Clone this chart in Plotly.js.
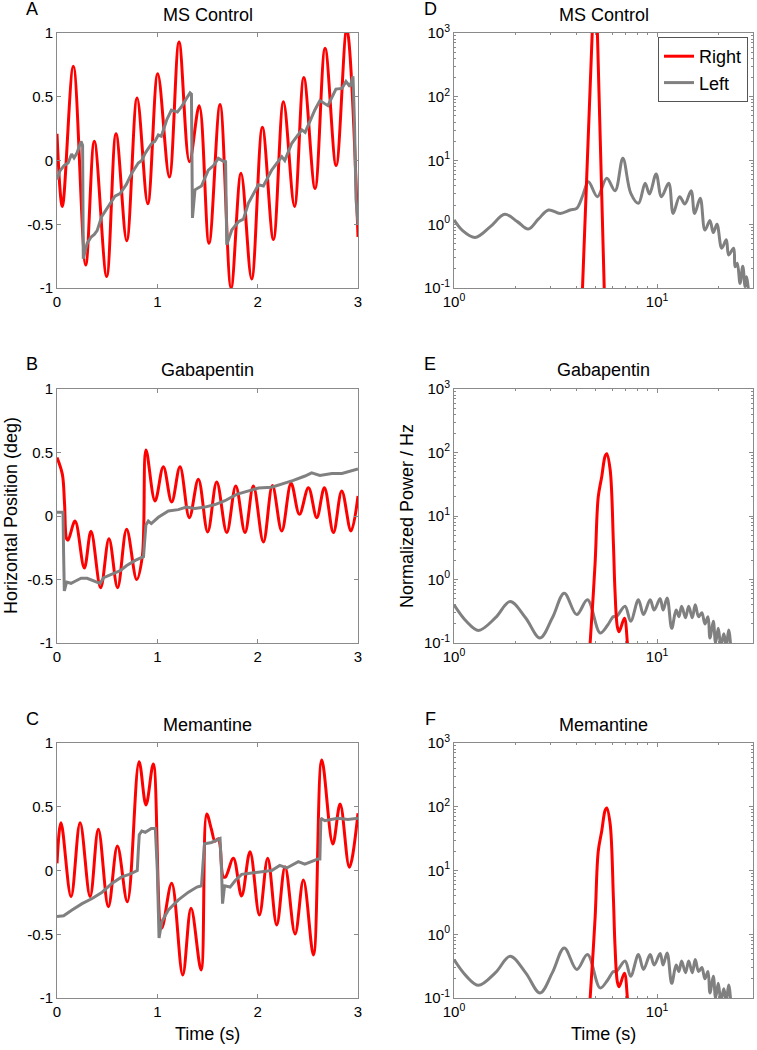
<!DOCTYPE html>
<html>
<head>
<meta charset="utf-8">
<script src="https://cdn.plot.ly/plotly-3.0.1.min.js"></script>
<style>html,body{margin:0;padding:0;background:#fff;}#chart{width:757px;height:1050px;}</style>
</head>
<body>
<div id="chart"></div>
<script>
// ---------- Data ----------
// Panel A: MS Control, time series
const tA_right = [0,0.053,0.163,0.286,0.372,0.495,0.588,0.695,0.798,0.905,1.004,1.12,1.216,1.32,1.418,1.515,1.625,1.735,1.834,1.94,2.047,2.157,2.257,2.367,2.46,2.572,2.672,2.782,2.888,3.0];
const A_right = [0.21,-0.36,0.74,-0.82,0.15,-0.91,0.21,-0.63,0.49,-0.34,0.68,-0.13,0.93,-0.01,0.43,-0.65,0.44,-1.0,-0.10,-0.93,0.26,-0.62,0.46,-0.36,0.65,-0.22,0.88,-0.04,1.03,-0.6];
const tA_left = [0,0.03,0.07,0.11,0.146,0.17,0.2,0.239,0.255,0.262,0.3,0.34,0.372,0.40,0.445,0.512,0.578,0.628,0.69,0.745,0.81,0.845,0.878,0.945,0.975,1.01,1.04,1.093,1.14,1.2,1.24,1.293,1.326,1.34,1.35,1.375,1.44,1.508,1.56,1.608,1.668,1.68,1.692,1.742,1.808,1.858,1.907,2.007,2.057,2.14,2.24,2.27,2.34,2.44,2.473,2.57,2.62,2.70,2.78,2.84,2.88,2.92,2.95,2.965,2.98,3.0];
const A_left = [-0.15,-0.08,-0.04,-0.02,0.05,0.02,0.06,0.15,0.12,-0.77,-0.65,-0.60,-0.58,-0.55,-0.44,-0.36,-0.28,-0.26,-0.19,-0.10,-0.02,0.0,0.056,0.135,0.15,0.20,0.19,0.318,0.396,0.38,0.42,0.49,0.53,0.52,-0.45,-0.23,-0.20,-0.075,-0.04,0.017,-0.01,0.0,-0.66,-0.545,-0.48,-0.46,-0.336,-0.19,-0.20,-0.075,0.03,0.0,0.135,0.24,0.22,0.396,0.47,0.43,0.56,0.565,0.62,0.58,0.66,0.3,-0.3,-0.5];

// Panel B: Gabapentin, time series
const tB_right = [0,0.053,0.075,0.096,0.11,0.18,0.272,0.339,0.435,0.518,0.604,0.694,0.794,0.85,0.887,0.977,1.06,1.143,1.226,1.319,1.409,1.502,1.592,1.692,1.782,1.874,1.957,2.057,2.147,2.24,2.333,2.416,2.506,2.589,2.665,2.755,2.838,2.93,3.0];
const B_right = [0.46,0.33,0.1,-0.18,-0.19,-0.04,-0.41,-0.12,-0.565,-0.18,-0.565,-0.105,-0.50,-0.32,0.52,0.118,0.388,0.11,0.388,-0.013,0.29,-0.126,0.268,-0.13,0.236,-0.13,0.236,-0.205,0.24,-0.118,0.257,0.013,0.223,-0.013,0.223,-0.13,0.197,-0.118,0.157];
const tB_left = [0,0.06,0.066,0.073,0.096,0.14,0.19,0.24,0.3,0.37,0.43,0.465,0.548,0.63,0.695,0.78,0.862,0.875,0.886,0.91,0.94,1.01,1.11,1.209,1.29,1.375,1.475,1.575,1.674,1.79,1.907,2.007,2.14,2.24,2.356,2.472,2.538,2.62,2.74,2.84,2.91,3.0];
const B_left = [0.03,0.03,-0.3,-0.59,-0.52,-0.53,-0.51,-0.49,-0.49,-0.51,-0.53,-0.485,-0.46,-0.43,-0.39,-0.35,-0.32,-0.2,-0.07,-0.04,-0.06,-0.01,0.04,0.05,0.07,0.06,0.07,0.09,0.12,0.17,0.2,0.22,0.226,0.25,0.28,0.315,0.34,0.32,0.335,0.335,0.35,0.37];

// Panel C: Memantine, time series
const tC_right = [0,0.04,0.14,0.23,0.33,0.412,0.512,0.602,0.701,0.818,0.887,0.96,1.043,1.143,1.253,1.336,1.436,1.492,1.54,1.574,1.608,1.625,1.658,1.68,1.758,1.84,1.924,2.017,2.1,2.19,2.273,2.373,2.456,2.556,2.639,2.749,2.822,2.914,3.0];
const C_right = [0.056,0.375,-0.205,0.375,-0.205,0.323,-0.284,0.192,-0.245,0.853,0.514,0.835,-0.453,-0.1,-0.82,-0.296,-0.78,0.443,0.32,0.23,0.25,0.2,-0.05,-0.05,0.096,-0.2,0.148,-0.349,0.096,-0.427,0.03,-0.498,-0.075,-0.663,0.867,0.208,0.522,0.025,0.45];
const tC_left = [0,0.066,0.15,0.25,0.35,0.45,0.55,0.645,0.72,0.8,0.81,0.82,0.845,0.88,0.94,0.98,1.0,1.017,1.045,1.11,1.21,1.31,1.395,1.44,1.455,1.47,1.54,1.59,1.625,1.64,1.65,1.67,1.725,1.775,1.84,1.94,2.04,2.14,2.22,2.29,2.405,2.47,2.6,2.62,2.63,2.67,2.73,2.8,2.9,3.0];
const C_left = [-0.36,-0.355,-0.31,-0.26,-0.22,-0.17,-0.10,-0.05,-0.03,0.0,0.15,0.28,0.31,0.30,0.33,0.33,0.0,-0.53,-0.40,-0.31,-0.23,-0.17,-0.13,-0.12,0.05,0.21,0.22,0.24,0.25,0.0,-0.26,-0.12,-0.13,-0.08,-0.03,-0.02,-0.01,0.0,0.04,0.02,0.07,0.05,0.09,0.09,0.41,0.39,0.40,0.41,0.40,0.41];

// Panel D: MS Control, spectrum
const fD_right = [4.28,4.96,5.50];
const D_right = [0.08,18000,0.08];
const fD_left = [1,1.1,1.27,1.5,1.78,2.05,2.32,2.6,2.92,3.33,3.73,4.02,4.3,4.59,5.08,5.65,6.21,6.78,7.42,8.09,8.73,9.17,9.89,10.5,11.4,12.0,12.9,13.7,14.7,15.3,16.3,17.2,18.2,18.9,19.7,20.8,21.9,22.5,23.8,24.2,24.8,25.6,26.4,27.1,27.5,28.2];
const D_left = [1.17,0.8,0.62,0.9,1.43,1.1,0.84,1.2,1.67,1.48,1.67,1.78,2.8,4.65,2.71,5.26,3.36,10.8,3.05,2.13,4.39,2.98,6.14,2.71,4.39,1.48,2.71,2.08,3.36,1.48,2.55,0.81,1.14,0.74,1.0,0.42,0.57,0.33,0.42,0.216,0.244,0.118,0.22,0.105,0.15,0.09];

// Panel E: Gabapentin, spectrum
const fE_right = [4.6,4.68,4.95,5.13,5.34,5.54,5.65,5.87,6.09,6.2,6.37,6.5,6.9,7.14,7.25];
const E_right = [0.05,0.1,1.8,20,42,87,96,54,3.8,0.69,0.18,0.15,0.245,0.1,0.06];
const fE_left = [1,1.15,1.32,1.6,1.89,2.25,2.65,3.05,3.49,4.02,4.54,5.24,5.7,6.09,6.3,6.95,7.41,8.09,8.57,9.24,9.67,10.35,10.7,11.2,11.8,12.4,12.8,13.2,13.8,14.3,14.9,15.4,16.0,16.6,17.2,17.8,18.2,18.9,19.4,20.0,20.6,21.3,21.9,22.5,23.1];
const E_left = [0.40,0.22,0.158,0.25,0.45,0.25,0.12,0.25,0.61,0.28,0.48,0.144,0.19,0.26,0.26,0.38,0.22,0.48,0.28,0.48,0.33,0.5,0.33,0.51,0.17,0.33,0.26,0.38,0.25,0.38,0.25,0.40,0.26,0.3,0.2,0.26,0.12,0.22,0.1,0.17,0.09,0.14,0.09,0.16,0.08];

// Panel F: Memantine, spectrum
const fF_right = [4.6,4.68,4.95,5.13,5.34,5.54,5.65,5.87,6.09,6.2,6.37,6.5,6.9,7.14,7.25];
const F_right = [0.05,0.1,1.8,20,42,87,96,54,3.8,0.69,0.18,0.15,0.245,0.1,0.06];
const fF_left = [1,1.15,1.32,1.6,1.89,2.25,2.65,3.05,3.49,4.02,4.54,5.24,5.7,6.09,6.3,6.95,7.41,8.09,8.57,9.24,9.67,10.35,10.7,11.2,11.8,12.4,12.8,13.2,13.8,14.3,14.9,15.4,16.0,16.6,17.2,17.8,18.2,18.9,19.4,20.0,20.6,21.3,21.9,22.5,23.1];
const F_left = [0.40,0.22,0.158,0.25,0.45,0.25,0.12,0.25,0.61,0.28,0.48,0.144,0.19,0.26,0.26,0.38,0.22,0.48,0.28,0.48,0.33,0.5,0.33,0.51,0.17,0.33,0.26,0.38,0.25,0.38,0.25,0.40,0.26,0.3,0.2,0.26,0.12,0.22,0.1,0.17,0.09,0.14,0.09,0.16,0.08];

// Tick labels
const timeTicks = [0,1,2,3];
const timeTickText = ['0','1','2','3'];
const posTicks = [-1,-0.5,0,0.5,1];
const posTickText = ['-1','-0.5','0','0.5','1'];
const powTicks = [0.1,1,10,100,1000];
const powTickText = ['10<sup>-1</sup>','10<sup>0</sup>','10<sup>1</sup>','10<sup>2</sup>','10<sup>3</sup>'];
const freqTicks = [1,10];
const freqTickText = ['10<sup>0</sup>','10<sup>1</sup>'];
const panelTitles = ['MS Control','Gabapentin','Memantine'];
const panelLetters = ['A','B','C','D','E','F'];

// ---------- Styling ----------
const RED = '#ff0000', GRAY = '#808080', AX = '#8a8a8a';
const FONT = 'Liberation Sans, Arial, sans-serif';
const W = 757, H = 1050;
const colX = [[57,358],[454,753]];
const rowY = [[33,288],[389,643],[743,998]];
const dom = (a,b,n) => [a/n, b/n];
const ydom = r => [1 - rowY[r][1]/H, 1 - rowY[r][0]/H];

const minorLog = [];
for (let k=-1;k<=2;k++) for (let m=2;m<=9;m++) minorLog.push(m*Math.pow(10,k));
const minorFreq = [2,3,4,5,6,7,8,9,20,30];

function timeX(anchor, r){
  return {domain: dom(colX[0][0],colX[0][1],W), anchor: anchor, range:[0,3], tickmode:'array', tickvals: timeTicks, ticktext: timeTickText,
    showline:true, mirror:'ticks', linecolor:AX, linewidth:1, ticks:'inside', ticklen:4, tickcolor:AX, showgrid:false, zeroline:false,
    tickfont:{size:15,color:'#000',family:FONT}};
}
function posY(anchor, r){
  return {domain: ydom(r), anchor: anchor, range:[-1,1], tickmode:'array', tickvals: posTicks, ticktext: posTickText,
    showline:true, mirror:'ticks', linecolor:AX, linewidth:1, ticks:'inside', ticklen:4, tickcolor:AX, showgrid:false, zeroline:false,
    tickfont:{size:15,color:'#000',family:FONT}};
}
function freqX(anchor, r){
  return {domain: dom(colX[1][0],colX[1][1],W), anchor: anchor, type:'log', range:[0,1.472], tickmode:'array', tickvals: freqTicks, ticktext: freqTickText,
    showline:true, mirror:'ticks', linecolor:AX, linewidth:1, ticks:'inside', ticklen:4, tickcolor:AX, showgrid:false, zeroline:false,
    minor:{tickmode:'array', tickvals:minorFreq, ticks:'inside', ticklen:2, tickcolor:AX, showgrid:false},
    tickfont:{size:15,color:'#000',family:FONT}};
}
function powY(anchor, r){
  return {domain: ydom(r), anchor: anchor, type:'log', range:[-1,3], tickmode:'array', tickvals: powTicks, ticktext: powTickText,
    showline:true, mirror:'ticks', linecolor:AX, linewidth:1, ticks:'inside', ticklen:4, tickcolor:AX, showgrid:false, zeroline:false,
    minor:{tickmode:'array', tickvals:minorLog, ticks:'inside', ticklen:2, tickcolor:AX, showgrid:false},
    tickfont:{size:15,color:'#000',family:FONT}};
}

const traces = [];
function line(x, y, xa, ya, color, shape, name, show, rank){
  traces.push({type:'scatter', mode:'lines', x:x, y:y, xaxis:xa, yaxis:ya, name:name, showlegend:show, legendrank:rank,
    line:{color:color, width:3, shape:shape, smoothing:1}, hoverinfo:'skip'});
}
// Time series (red first, gray on top)
line(tA_right, A_right, 'x', 'y', RED, 'spline', 'Right', false, 1);
line(tA_left, A_left, 'x', 'y', GRAY, 'linear', 'Left', false, 2);
line(tB_right, B_right, 'x3', 'y3', RED, 'spline', 'Right', false, 1);
line(tB_left, B_left, 'x3', 'y3', GRAY, 'linear', 'Left', false, 2);
line(tC_right, C_right, 'x5', 'y5', RED, 'spline', 'Right', false, 1);
line(tC_left, C_left, 'x5', 'y5', GRAY, 'linear', 'Left', false, 2);
// Spectra (gray first, red on top)
line(fD_left, D_left, 'x2', 'y2', GRAY, 'spline', 'Left', true, 2);
line(fD_right, D_right, 'x2', 'y2', RED, 'linear', 'Right', true, 1);
line(fE_left, E_left, 'x4', 'y4', GRAY, 'spline', 'Left', false, 2);
line(fE_right, E_right, 'x4', 'y4', RED, 'spline', 'Right', false, 1);
line(fF_left, F_left, 'x6', 'y6', GRAY, 'spline', 'Left', false, 2);
line(fF_right, F_right, 'x6', 'y6', RED, 'spline', 'Right', false, 1);

const ann = [];
function txt(x, y, t, size, extra){
  ann.push(Object.assign({xref:'paper', yref:'paper', x:x/W, y:1-y/H, text:t, showarrow:false,
    font:{size:size, color:'#000', family:FONT}, xanchor:'center', yanchor:'middle'}, extra||{}));
}
// panel titles
const titleY = [15, 370, 725];
for (let r=0;r<3;r++){
  txt((colX[0][0]+colX[0][1])/2, titleY[r], panelTitles[r], 18);
  txt((colX[1][0]+colX[1][1])/2, titleY[r], panelTitles[r], 18);
}
// panel letters
const letterY = [9, 364, 719];
for (let r=0;r<3;r++){
  txt(32, letterY[r], panelLetters[r], 18);
  txt(430, letterY[r], panelLetters[r+3], 18);
}
// axis titles
txt(11, 516, 'Horizontal Position (deg)', 18, {textangle:-90});
txt(407, 516, 'Normalized Power / Hz', 18, {textangle:-90});
txt(207.5, 1034, 'Time (s)', 18);
txt(603.5, 1034, 'Time (s)', 18);

const layout = {
  width: W, height: H, margin:{l:0,r:0,t:0,b:0},
  paper_bgcolor:'#fff', plot_bgcolor:'#fff',
  font:{family:FONT, size:15, color:'#000'},
  xaxis: timeX('y',0), yaxis: posY('x',0),
  xaxis2: freqX('y2',0), yaxis2: powY('x2',0),
  xaxis3: timeX('y3',1), yaxis3: posY('x3',1),
  xaxis4: freqX('y4',1), yaxis4: powY('x4',1),
  xaxis5: timeX('y5',2), yaxis5: posY('x5',2),
  xaxis6: freqX('y6',2), yaxis6: powY('x6',2),
  showlegend: true,
  legend:{x:748/W, y:1-37/H, xanchor:'right', yanchor:'top', bgcolor:'#fff', bordercolor:'#555', borderwidth:1,
    font:{size:18, family:FONT, color:'#000'}, tracegroupgap:0},
  annotations: ann
};

Plotly.newPlot('chart', traces, layout, {staticPlot:true, displayModeBar:false});
</script>
</body>
</html>
